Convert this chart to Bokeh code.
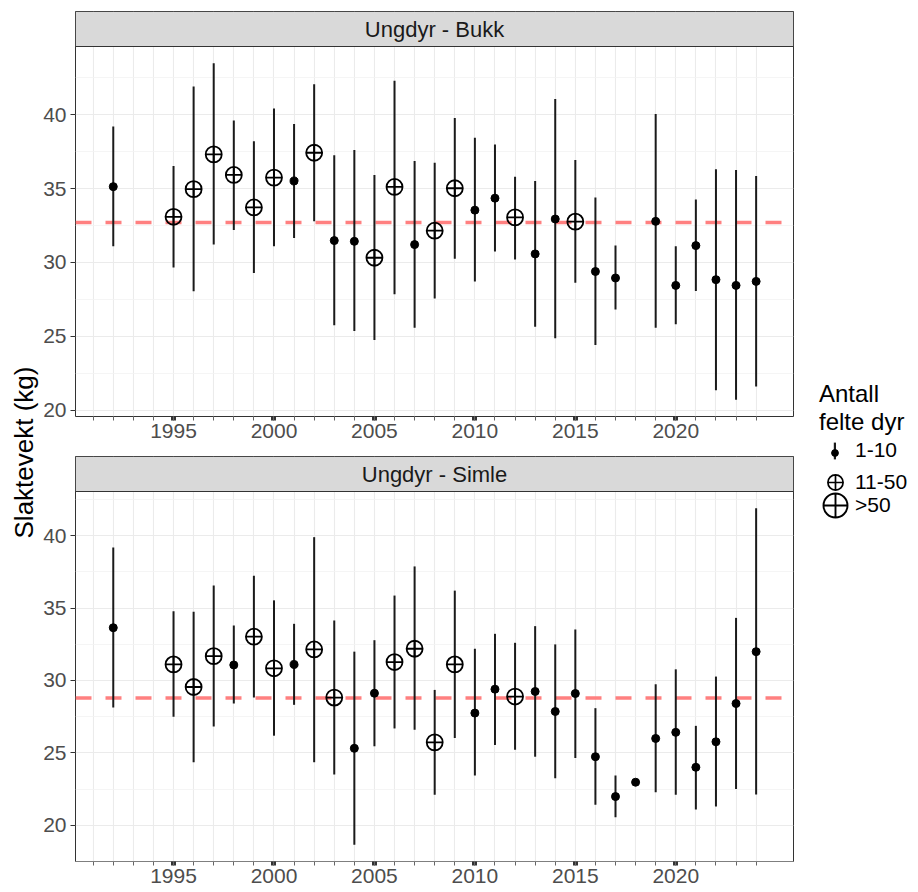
import numpy as np
from bokeh.plotting import figure
from bokeh.models import Range1d, FixedTicker, Span, Label, Legend, LegendItem
from bokeh.layouts import row, column
from bokeh.embed import file_html
from bokeh.resources import INLINE

# ---------------- data ----------------
panel_labels = ["Ungdyr - Bukk", "Ungdyr - Simle"]
size_labels = ["1-10", "11-50", ">50"]
legend_title = "Antall\nfelte dyr"
y_title = "Slaktevekt (kg)"

bukk_year = [1992, 1995, 1996, 1997, 1998, 1999, 2000, 2001, 2002, 2003, 2004, 2005, 2006,
             2007, 2008, 2009, 2010, 2011, 2012, 2013, 2014, 2015, 2016, 2017, 2019, 2020,
             2021, 2022, 2023, 2024]
bukk_mean = [35.13, 33.09, 34.96, 37.31, 35.92, 33.72, 35.74, 35.51, 37.42, 31.48, 31.43, 30.32,
             35.11, 31.21, 32.15, 35.02, 33.54, 34.35, 33.05, 30.58, 32.94, 32.76, 29.39, 28.95,
             32.78, 28.45, 31.14, 28.84, 28.45, 28.72]
bukk_lower = [31.10, 29.66, 28.05, 31.21, 32.20, 29.28, 31.10, 31.66, 32.78, 25.76, 25.36, 24.75,
              27.85, 25.58, 27.56, 30.25, 28.72, 30.74, 30.20, 25.65, 24.87, 28.63, 24.42, 26.82,
              25.58, 25.83, 28.07, 21.35, 20.72, 21.61]
bukk_upper = [39.19, 36.52, 41.90, 43.47, 39.60, 38.20, 40.42, 39.37, 42.06, 37.26, 37.60, 35.92,
              42.29, 36.86, 36.75, 39.77, 38.43, 37.98, 35.80, 35.51, 41.06, 36.93, 34.39, 31.14,
              40.04, 31.10, 34.26, 36.30, 36.25, 35.85]
bukk_n = ["1-10", "11-50", "11-50", "11-50", "11-50", "11-50", "11-50", "1-10", "11-50", "1-10",
          "1-10", "11-50", "11-50", "1-10", "11-50", "11-50", "1-10", "1-10", "11-50", "1-10",
          "1-10", "11-50", "1-10", "1-10", "1-10", "1-10", "1-10", "1-10", "1-10", "1-10"]
bukk_reference = 32.7

simle_year = [1992, 1995, 1996, 1997, 1998, 1999, 2000, 2001, 2002, 2003, 2004, 2005, 2006,
              2007, 2008, 2009, 2010, 2011, 2012, 2013, 2014, 2015, 2016, 2017, 2018, 2019,
              2020, 2021, 2022, 2023, 2024]
simle_mean = [33.64, 31.11, 29.55, 31.68, 31.07, 33.02, 30.84, 31.11, 32.14, 28.82, 25.32, 29.12,
              31.27, 32.19, 25.73, 31.11, 27.75, 29.40, 28.89, 29.24, 27.86, 29.10, 24.74, 21.99,
              22.98, 26.00, 26.42, 24.01, 25.77, 28.41, 31.99]
simle_lower = [28.14, 27.49, 24.36, 26.83, 28.41, 28.82, 26.19, 28.32, 24.36, 23.51, 18.67, 25.46,
               26.69, 26.60, 22.11, 26.03, 23.44, 25.55, 25.22, 24.74, 23.26, 24.65, 21.42, 20.57,
               np.nan, 22.29, 22.11, 21.10, 21.31, 22.52, 22.13]
simle_upper = [39.18, 34.78, 34.74, 36.56, 33.79, 37.23, 35.53, 33.91, 39.89, 34.14, 31.99, 32.78,
               35.86, 37.87, 29.35, 36.20, 32.19, 33.22, 32.60, 33.75, 32.49, 33.52, 28.09, 23.44,
               np.nan, 29.74, 30.77, 26.87, 30.27, 34.32, 41.88]
simle_n = ["1-10", "11-50", "11-50", "11-50", "1-10", "11-50", "11-50", "1-10", "11-50", "11-50",
           "1-10", "1-10", "11-50", "11-50", "11-50", "11-50", "1-10", "1-10", "11-50", "1-10",
           "1-10", "1-10", "1-10", "1-10", "1-10", "1-10", "1-10", "1-10", "1-10", "1-10", "1-10"]
simle_reference = 28.8

grid_years = list(range(1991, 2025))
x_ticks = [1995, 2000, 2005, 2010, 2015, 2020]
x_tick_labels = ["1995", "2000", "2005", "2010", "2015", "2020"]
y_ticks = [20, 25, 30, 35, 40]
y_minor = [17.5, 22.5, 27.5, 32.5, 37.5, 42.5]

# ---------------- style ----------------
FONT = "Liberation Sans"
STRIP_H = 35
FRAME_W = 718
X_START, X_END = 1990.12, 2025.86


def make_panel(label, years, mean, lower, upper, ncls, ref, panel_h, top_b, bot_b):
    lo = float(np.nanmin(lower))
    hi = float(np.nanmax(upper))
    pad = 0.05 * (hi - lo)
    y0, y1 = lo - pad, hi + pad
    y_top = y1 + (y1 - y0) * STRIP_H / panel_h
    p = figure(frame_width=FRAME_W, frame_height=panel_h + STRIP_H,
               x_range=Range1d(X_START, X_END), y_range=Range1d(y0, y_top),
               output_backend="svg", toolbar_location=None,
               min_border_left=35, min_border_right=7,
               min_border_top=top_b, min_border_bottom=bot_b,
               background_fill_color="white", border_fill_color="white")
    p.outline_line_color = "#333333"
    p.outline_line_width = 1

    # grid
    p.xgrid.ticker = FixedTicker(ticks=grid_years)
    p.xgrid.grid_line_color = "#EBEBEB"
    p.xgrid.grid_line_width = 1.1
    p.ygrid.ticker = FixedTicker(ticks=y_ticks, minor_ticks=y_minor)
    p.ygrid.grid_line_color = "#EBEBEB"
    p.ygrid.grid_line_width = 1.1
    p.ygrid.minor_grid_line_color = "#F3F3F3"
    p.ygrid.minor_grid_line_width = 0.8

    # axes
    p.xaxis.ticker = FixedTicker(ticks=x_ticks, minor_ticks=grid_years)
    p.xaxis.major_label_overrides = {t: l for t, l in zip(x_ticks, x_tick_labels)}
    p.xaxis.axis_line_color = None
    p.xaxis.major_tick_line_color = "#333333"
    p.xaxis.major_tick_line_width = 5
    p.xaxis.major_tick_out = 4
    p.xaxis.major_tick_in = 0
    p.xaxis.minor_tick_line_color = "#666666"
    p.xaxis.minor_tick_line_width = 1
    p.xaxis.minor_tick_out = 4
    p.xaxis.minor_tick_in = 0
    p.xaxis.major_label_standoff = 3
    p.yaxis.ticker = FixedTicker(ticks=y_ticks)
    p.yaxis.axis_line_color = None
    p.yaxis.major_tick_line_color = "#333333"
    p.yaxis.major_tick_out = 5
    p.yaxis.major_tick_in = 0
    p.yaxis.minor_tick_line_color = None
    p.yaxis.major_label_standoff = 4
    for ax in (p.xaxis, p.yaxis):
        ax.major_label_text_font = FONT
        ax.major_label_text_font_size = "21px"
        ax.major_label_text_color = "#4D4D4D"

    # reference line
    p.add_layout(Span(location=ref, dimension="width", line_color="#FF8080",
                      line_width=3.5, line_dash="16 14", level="underlay"))

    # error bars
    ok = [not (np.isnan(a) or np.isnan(b)) for a, b in zip(lower, upper)]
    yv = [y for y, k in zip(years, ok) if k]
    lv = [a for a, k in zip(lower, ok) if k]
    uv = [b for b, k in zip(upper, ok) if k]
    p.segment(x0=yv, y0=lv, x1=yv, y1=uv, line_color="#1A1A1A", line_width=2)

    # points
    sx = [y for y, c in zip(years, ncls) if c == size_labels[0]]
    sy = [m for m, c in zip(mean, ncls) if c == size_labels[0]]
    bx = [y for y, c in zip(years, ncls) if c == size_labels[1]]
    by = [m for m, c in zip(mean, ncls) if c == size_labels[1]]
    p.scatter(bx, by, marker="circle_cross", size=16, fill_color=None,
              line_color="black", line_width=1.8)
    p.scatter(sx, sy, marker="circle", size=8, fill_color="black",
              line_color="black", line_width=1)

    # strip
    p.quad(left=[X_START], right=[X_END], bottom=[y1], top=[y_top],
           fill_color="#D9D9D9", line_color="#333333", line_width=1)
    p.add_layout(Label(x=(X_START + X_END) / 2, y=(y1 + y_top) / 2, text=label,
                       text_align="center", text_baseline="middle",
                       text_font=FONT, text_font_size="22px", text_color="#1A1A1A"))
    return p


p1 = make_panel(panel_labels[0], bukk_year, bukk_mean, bukk_lower, bukk_upper, bukk_n,
                bukk_reference, 370, 11, 32)
p2 = make_panel(panel_labels[1], simle_year, simle_mean, simle_lower, simle_upper, simle_n,
                simle_reference, 370, 8, 31)

# y title
pt = figure(width=40, height=892, x_range=Range1d(0, 1), y_range=Range1d(0, 1),
            x_axis_location=None, y_axis_location=None, toolbar_location=None,
            min_border=0, outline_line_color=None, output_backend="svg")
pt.grid.visible = False
pt.add_layout(Label(x=23, y=440, x_units="screen", y_units="screen", text=y_title,
                    angle=90, angle_units="deg", text_align="center", text_baseline="middle",
                    text_font=FONT, text_font_size="26px", text_color="black"))

# legend panel (key glyphs sit on off-view dummy points so only the legend shows them)
pl = figure(width=118, height=892, x_range=Range1d(0, 1), y_range=Range1d(0, 1),
            x_axis_location=None, y_axis_location=None, toolbar_location=None,
            min_border=0, outline_line_color=None, output_backend="svg")
pl.grid.visible = False
off = dict(x=[-5], y=[-5])
r_blank = pl.scatter(marker="circle", size=1, fill_alpha=0, line_alpha=0, **off)
r_bar = pl.vbar(x=[-5], top=[-5], width=0.1, fill_color="#1A1A1A", line_color=None)
r_dot = pl.scatter(marker="circle", fill_color="black", line_color="black", **off)
r_mid = pl.scatter(marker="circle_cross", fill_color=None, line_color="black",
                   line_width=1.7, **off)
r_big = pl.scatter(marker="circle_cross", fill_color=None, line_color="black",
                   line_width=1.9, **off)


def mk_legend(items, loc, gw, gh, standoff, lh=None, title=None):
    kw = dict(items=items, location=loc, padding=0, margin=0, spacing=0,
              border_line_color=None, background_fill_alpha=0,
              glyph_width=gw, glyph_height=gh, label_height=lh if lh else gh,
              label_standoff=standoff,
              label_text_font=FONT, label_text_font_size="21px", label_text_color="black")
    if title is not None:
        kw.update(title=title, title_text_font=FONT, title_text_font_size="24px",
                  title_text_font_style="normal", title_standoff=0,
                  title_text_line_height=0.9, title_text_color="black")
    return Legend(**kw)


L0 = mk_legend([LegendItem(label=" ", renderers=[r_blank])], (19, 455), 1, 1, 0,
               title=legend_title)
L0.label_text_font_size = "1px"
L1 = mk_legend([LegendItem(label=size_labels[0], renderers=[r_bar])], (33, 430), 3, 21, 19)
L1b = mk_legend([LegendItem(label=" ", renderers=[r_dot])], (26, 431), 17, 17, 2)
L2 = mk_legend([LegendItem(label=size_labels[1], renderers=[r_mid])], (16, 391), 38, 38, 1)
L3 = mk_legend([LegendItem(label=" ", renderers=[r_big])], (5, 357), 60, 60, 1)
L3b = mk_legend([LegendItem(label=size_labels[2], renderers=[r_blank])], (54, 375), 1, 24, 0)
for L in (L0, L1, L1b, L2, L3, L3b):
    pl.add_layout(L, "center")

layout = row(pt, column(p1, p2), pl)
open("out.html", "w").write(file_html(layout, INLINE))
